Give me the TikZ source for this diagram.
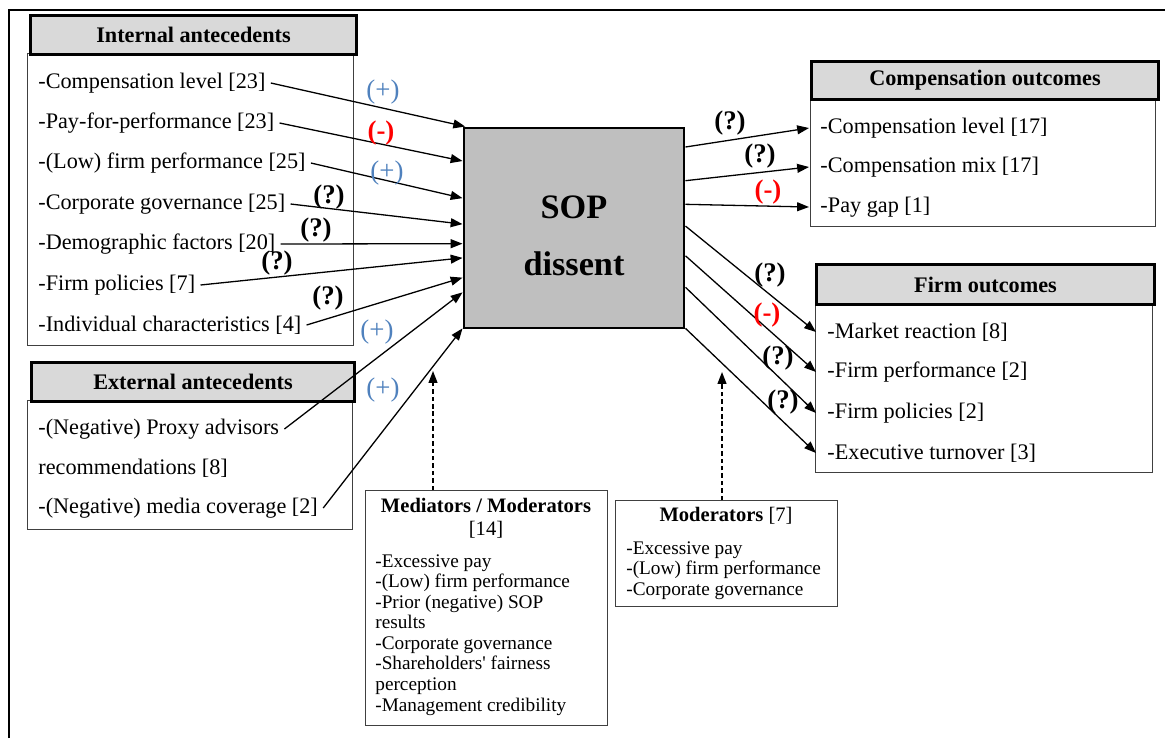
\documentclass[tikz,border=0pt]{standalone}
\usepackage{fontspec}
\setmainfont{Liberation Serif}
\usetikzlibrary{arrows.meta}

\newcommand{\pxu}{0.54pt}
\definecolor{plusblue}{RGB}{79,129,189}
\definecolor{minusred}{RGB}{255,0,0}
\definecolor{hdrgray}{RGB}{217,217,217}
\definecolor{sopgray}{RGB}{191,191,191}

\tikzset{
  >={Triangle[length=6.4pt,width=4.8pt]},
  frame/.style args={#1 by #2}{draw=black!75, line width=0.6pt, anchor=north west,
    inner sep=0pt, minimum width=#1*\pxu, minimum height=#2*\pxu},
  hdr/.style args={#1 by #2}{frame={#1 by #2}, draw=black, line width=1.6pt,
    fill=hdrgray, font=\fontsize{12}{14}\selectfont\bfseries},
  initem/.style={anchor=west, inner sep=2.7pt},
  outitem/.style={anchor=west, inner sep=6pt},
  smalltitle/.style={align=center, inner sep=0pt, font=\fontsize{11.1}{12.4}\selectfont},
  smallitems/.style={anchor=north west, align=left, inner sep=0pt,
    font=\fontsize{10.4}{11.1}\selectfont},
  plus/.style={text=plusblue, font=\fontsize{14.5}{16}\selectfont},
  minus/.style={text=minusred, font=\fontsize{14.5}{16}\selectfont\bfseries},
  query/.style={font=\fontsize{14.5}{16}\selectfont\bfseries},
  link/.style={->, line width=0.7pt},
  modlink/.style={->, line width=0.7pt, dash pattern=on 2.4pt off 1.6pt}
}

\begin{document}
\begin{tikzpicture}[x=0.54pt,y=-0.54pt,font=\fontsize{12}{14}\selectfont]
  \useasboundingbox (0,0) rectangle (1165,738);
  \draw[line width=1.1pt] (9,738) -- (9,10) -- (1165,10); % outer frame

  % internal antecedents
  \node[frame={326 by 292}] (intbox) at (27,53) {};
  \node[hdr={326 by 39}] (inthdr) at (29,14) {Internal antecedents};
  \node[initem] (int1) at (33,83) {-Compensation level [23]};
  \node[initem] (int2) at (33,123) {-Pay-for-performance [23]};
  \node[initem] (int3) at (33,163) {-(Low) firm performance [25]};
  \node[initem] (int4) at (33,204) {-Corporate governance [25]};
  \node[initem] (int5) at (33,244) {-Demographic factors [20]};
  \node[initem] (int6) at (33,285) {-Firm policies [7]};
  \node[initem] (int7) at (33,325) {-Individual characteristics [4]};

  % external antecedents
  \node[frame={325 by 129}] (extbox) at (27,400) {};
  \node[hdr={323 by 39}] (exthdr) at (30,361) {External antecedents};
  \node[initem] (ext1) at (33,429) {-(Negative) Proxy advisors};
  \node[initem] (ext2) at (33,468) {recommendations [8]};
  \node[initem] (ext3) at (33,508) {-(Negative) media coverage [2]};

  % SOP dissent
  \node[draw, line width=1.6pt, fill=sopgray, minimum width=220*\pxu,
    minimum height=200*\pxu, inner sep=0pt] (sop) at (574,228) {};
  \node[align=center, font=\fontsize{18.5}{31}\selectfont\bfseries] (soptext)
    at (574,236) {SOP\\dissent};

  % compensation outcomes
  \node[frame={345 by 128}] (compbox) at (810,98) {};
  \node[hdr={347 by 38}] (comphdr) at (810,60) {Compensation outcomes};
  \node[outitem] (comp1) at (809,128) {-Compensation level [17]};
  \node[outitem] (comp2) at (809,167) {-Compensation mix [17]};
  \node[outitem] (comp3) at (809,207) {-Pay gap [1]};

  % firm outcomes
  \node[frame={337 by 169}] (firmbox) at (815,303) {};
  \node[hdr={338 by 40}] (firmhdr) at (815,263) {Firm outcomes};
  \node[outitem] (firm1) at (816,332) {-Market reaction [8]};
  \node[outitem] (firm2) at (816,372) {-Firm performance [2]};
  \node[outitem] (firm3) at (816,413) {-Firm policies [2]};
  \node[outitem] (firm4) at (816,453) {-Executive turnover [3]};

  % mediators / moderators
  \node[frame={242 by 235}] (medbox) at (365,490) {};
  \node[smalltitle] (medtitle) at (486,518) {\textbf{Mediators / Moderators}\\{[14]}};
  \node[smallitems] (meditems) at (375,554) {-Excessive pay\\-(Low) firm performance\\
    -Prior (negative) SOP\\results\\-Corporate governance\\-Shareholders\textquotesingle{} fairness\\
    perception\\-Management credibility};
  \node[frame={222 by 106}] (modbox) at (615,500) {};
  \node[smalltitle] (modtitle) at (726,516) {\textbf{Moderators} [7]};
  \node[smallitems] (moditems) at (626,541) {-Excessive pay\\-(Low) firm performance\\
    -Corporate governance};

  % arrows into SOP
  \draw[link] (int1.east) -- (sop.137);
  \draw[link] (int2.east) -- (sop.149);
  \draw[link] (int3.east) -- (sop.165);
  \draw[link] (int4.east) -- (sop.178);
  \draw[link] (int5.east) -- (sop.188);
  \draw[link] (int6.east) -- (sop.195);
  \draw[link] (int7.east) -- (sop.204);
  \draw[link] (ext1.east) -- (sop.210);
  \draw[link] (ext3.east) -- (sop.222);

  % arrows out of SOP
  \draw[link] (sop.36) -- (comp1.west);
  \draw[link] (sop.23) -- (comp2.west);
  \draw[link] (sop.12) -- (comp3.west);
  \draw[link] (sop.1) -- (firm1.west);
  \draw[link] (sop.346) -- (firm2.west);
  \draw[link] (sop.332) -- (firm3.west);
  \draw[link] (sop.318) -- (firm4.west);

  % dashed arrows
  \coordinate (medtip) at (433,371);
  \coordinate (modtip) at (722,372);
  \draw[modlink] (medtip |- medbox.north) -- (medtip);
  \draw[modlink] (modtip |- modbox.north) -- (modtip);

  % signs
  \node[plus] (sgn1) at (383,92) {(+)};
  \node[minus] (sgn2) at (381,133) {(-)};
  \node[plus] (sgn3) at (387,173) {(+)};
  \node[query] (sgn4) at (329,197) {(?)};
  \node[query] (sgn5) at (316,230) {(?)};
  \node[query] (sgn6) at (277,263) {(?)};
  \node[query] (sgn7) at (328,298) {(?)};
  \node[plus] (sgn8) at (377,332) {(+)};
  \node[plus] (sgn9) at (383,390) {(+)};
  \node[query] (sgn10) at (730,123) {(?)};
  \node[query] (sgn11) at (760,156) {(?)};
  \node[minus] (sgn12) at (768,192) {(-)};
  \node[query] (sgn13) at (770,275) {(?)};
  \node[minus] (sgn14) at (767,315) {(-)};
  \node[query] (sgn15) at (778,358) {(?)};
  \node[query] (sgn16) at (783,402) {(?)};
\end{tikzpicture}
\end{document}
